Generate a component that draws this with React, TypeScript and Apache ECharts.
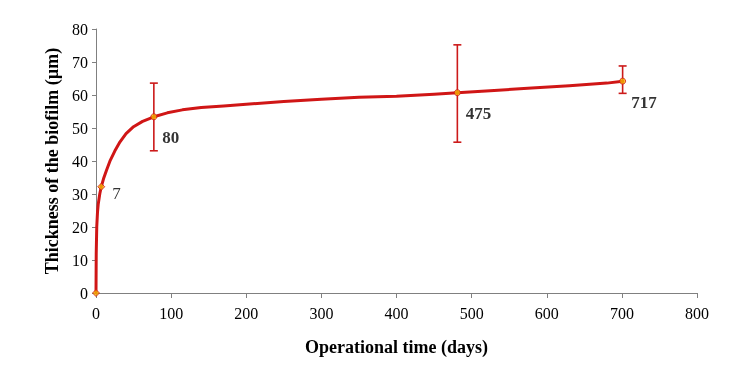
import React, { useEffect, useRef } from "react";
import * as echarts from "echarts";

// Fitted curve
const curveX = [0, 0.3, 1, 2, 3, 5, 7, 10, 14, 19, 25, 32, 40, 50, 62, 77, 95, 115, 140, 170, 200, 250, 300, 350, 400, 450, 481, 530, 580, 630, 680, 701];
const curveY = [0, 12, 20, 24.5, 27, 30, 32.2, 34.6, 37.2, 40.2, 43, 45.8, 48.3, 50.4, 52, 53.4, 54.6, 55.5, 56.2, 56.7, 57.2, 58, 58.7, 59.3, 59.6, 60.2, 60.7, 61.4, 62.1, 62.8, 63.6, 64.2];

// Measured points
const pointX = [0, 7, 77, 481, 701];
const pointY = [0, 32.2, 53.4, 60.7, 64.2];
const pointLabels = ["", "7", "80", "475", "717"];
const errLow = [null, null, 43.1, 45.7, 60.5];
const errHigh = [null, null, 63.6, 75.2, 68.8];

const xTicks = [0, 100, 200, 300, 400, 500, 600, 700, 800];
const yTicks = [0, 10, 20, 30, 40, 50, 60, 70, 80];

const SERIF = "Liberation Serif";

export default function App() {
  const ref = useRef<HTMLDivElement>(null);
  useEffect(() => {
    if (!ref.current) return;
    const chart = echarts.init(ref.current, null, { renderer: "svg" });
    const curve = curveX.map((x, i) => [x, curveY[i]]);
    const errData = pointX
      .map((x, i) => (errLow[i] != null ? [x, errLow[i], errHigh[i]] : null))
      .filter((d) => d !== null);
    const pts = pointX.map((x, i) => ({
      value: [x, pointY[i]],
      symbol: i < 2 ? "diamond" : "circle",
      symbolSize: i < 2 ? 7 : 6,
      label: {
        show: pointLabels[i] !== "",
        formatter: pointLabels[i],
        position: "right",
        offset: i === 1 ? [2, 7] : [0, 21],
        fontFamily: SERIF,
        fontSize: 17,
        fontWeight: i === 1 ? "normal" : "bold",
        color: "#000",
      },
    }));
    chart.setOption({
      animation: false,
      textStyle: { fontFamily: SERIF },
      grid: { left: 96, top: 29, right: 46, bottom: 81 },
      xAxis: {
        type: "value",
        min: xTicks[0],
        max: xTicks[xTicks.length - 1],
        interval: 100,
        splitLine: { show: false },
        axisLine: { lineStyle: { color: "#808080", width: 1 } },
        axisTick: { show: true, length: 5, lineStyle: { color: "#808080" } },
        axisLabel: { fontFamily: SERIF, fontSize: 16, color: "#000", margin: 12 },
        name: "Operational time (days)",
        nameLocation: "middle",
        nameGap: 45,
        nameTextStyle: { fontFamily: SERIF, fontSize: 18, fontWeight: "bold", color: "#000" },
      },
      yAxis: {
        type: "value",
        min: yTicks[0],
        max: yTicks[yTicks.length - 1],
        interval: 10,
        splitLine: { show: false },
        axisLine: { show: true, lineStyle: { color: "#808080", width: 1 } },
        axisTick: { show: true, length: 4, lineStyle: { color: "#808080" } },
        axisLabel: { fontFamily: SERIF, fontSize: 16, color: "#000", margin: 8 },
        name: "Thickness of the biofilm (µm)",
        nameLocation: "middle",
        nameGap: 35,
        nameTextStyle: { fontFamily: SERIF, fontSize: 18, fontWeight: "bold", color: "#000" },
      },
      series: [
        {
          type: "line",
          data: curve,
          smooth: false,
          showSymbol: false,
          lineStyle: { color: "#d01616", width: 3, join: "round", cap: "round" },
          z: 2,
        },
        {
          type: "custom",
          data: errData,
          z: 3,
          renderItem: (params: any, api: any) => {
            const x = api.value(0);
            const lo = api.coord([x, api.value(1)]);
            const hi = api.coord([x, api.value(2)]);
            const cap = 4;
            const style = { stroke: "#cc1a1a", lineWidth: 1.6 };
            return {
              type: "group",
              children: [
                { type: "line", shape: { x1: lo[0], y1: lo[1], x2: hi[0], y2: hi[1] }, style },
                { type: "line", shape: { x1: lo[0] - cap, y1: lo[1], x2: lo[0] + cap, y2: lo[1] }, style },
                { type: "line", shape: { x1: hi[0] - cap, y1: hi[1], x2: hi[0] + cap, y2: hi[1] }, style },
              ],
            };
          },
        },
        {
          type: "scatter",
          data: pts,
          itemStyle: { color: "#f5b400", borderColor: "#d01616", borderWidth: 1 },
          z: 4,
        },
      ],
    });
    return () => chart.dispose();
  }, []);
  return (
    <div
      ref={ref}
      style={{ position: "fixed", left: 0, top: 0, width: 743, height: 374 }}
    />
  );
}
